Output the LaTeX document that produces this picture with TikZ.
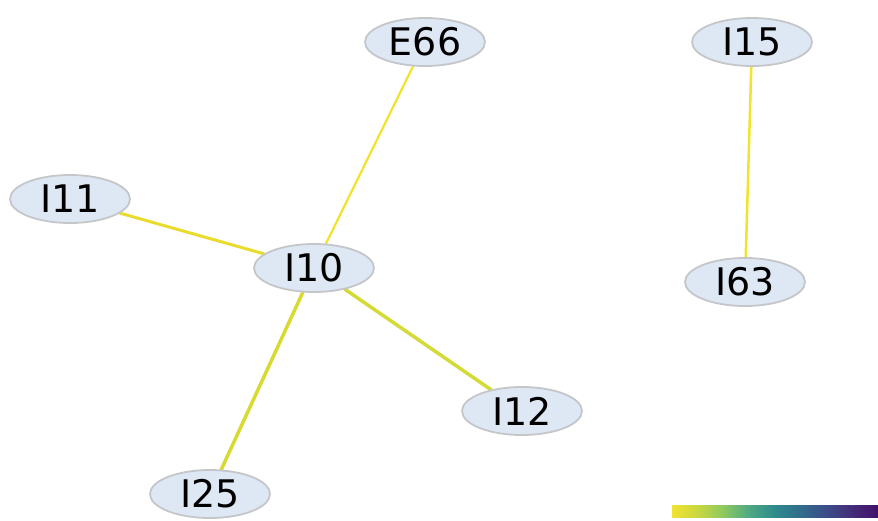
\documentclass[tikz,border=0pt]{standalone}
\usepackage{fontspec}
\setmainfont{DejaVu Sans}
\usetikzlibrary{shapes.geometric,backgrounds}

\definecolor{nodefill}{HTML}{DEE8F4}
\definecolor{nodeline}{HTML}{C4C6C9}
% edge colours (viridis, high end)
\definecolor{eA}{HTML}{F4E22A}
\definecolor{eB}{HTML}{EADC2C}
\definecolor{eC}{HTML}{D4DA36}
\definecolor{eD}{HTML}{D8DA32}
\definecolor{eE}{HTML}{EFE42E}
% colour bar stops
\definecolor{vA}{HTML}{F2E230}
\definecolor{vB}{HTML}{C8D840}
\definecolor{vC}{HTML}{8CC860}
\definecolor{vD}{HTML}{4EA884}
\definecolor{vE}{HTML}{2E8A8C}
\definecolor{vF}{HTML}{316C8C}
\definecolor{vG}{HTML}{3C4C88}
\definecolor{vH}{HTML}{452C78}
\definecolor{vI}{HTML}{42106A}

\tikzset{
  vertex/.style={ellipse, draw=nodeline, line width=1.8pt, fill=nodefill,
    minimum width=120pt, minimum height=48pt, inner sep=0pt,
    font=\fontsize{38}{38}\selectfont},
  link/.style={line cap=round},
}

\begin{document}
\begin{tikzpicture}[x=1pt,y=-1pt]
\useasboundingbox (0,0) rectangle (878,520);

\node[vertex] (E66) at (425,42) {E66};
\node[vertex] (I15) at (752,42) {I15};
\node[vertex] (I11) at (70,199) {I11};
\node[vertex] (I10) at (314,268) {I10};
\node[vertex] (I63) at (745,282) {I63};
\node[vertex] (I12) at (522,411) {I12};
\node[vertex] (I25) at (210,494) {I25};

\begin{scope}[on background layer]
  \draw[link, draw=eA, line width=2.2pt] (E66) -- (I10);
  \draw[link, draw=eB, line width=3pt]   (I11) -- (I10);
  \draw[link, draw=eC, line width=3.5pt] (I10) -- (I12);
  \draw[link, draw=eD, line width=3.5pt] (I10) -- (I25);
  \draw[link, draw=eE, line width=2.5pt] (I15) -- (I63);
\end{scope}

% colour bar, yellow to purple
\foreach \a/\b [count=\i from 0] in {vA/vB,vB/vC,vC/vD,vD/vE,vE/vF,vF/vG,vG/vH,vH/vI}{
  \shade[left color=\a, right color=\b]
    ({672+\i*25.75},505) rectangle ({672+(\i+1)*25.75+0.3},517);
}
\end{tikzpicture}
\end{document}
